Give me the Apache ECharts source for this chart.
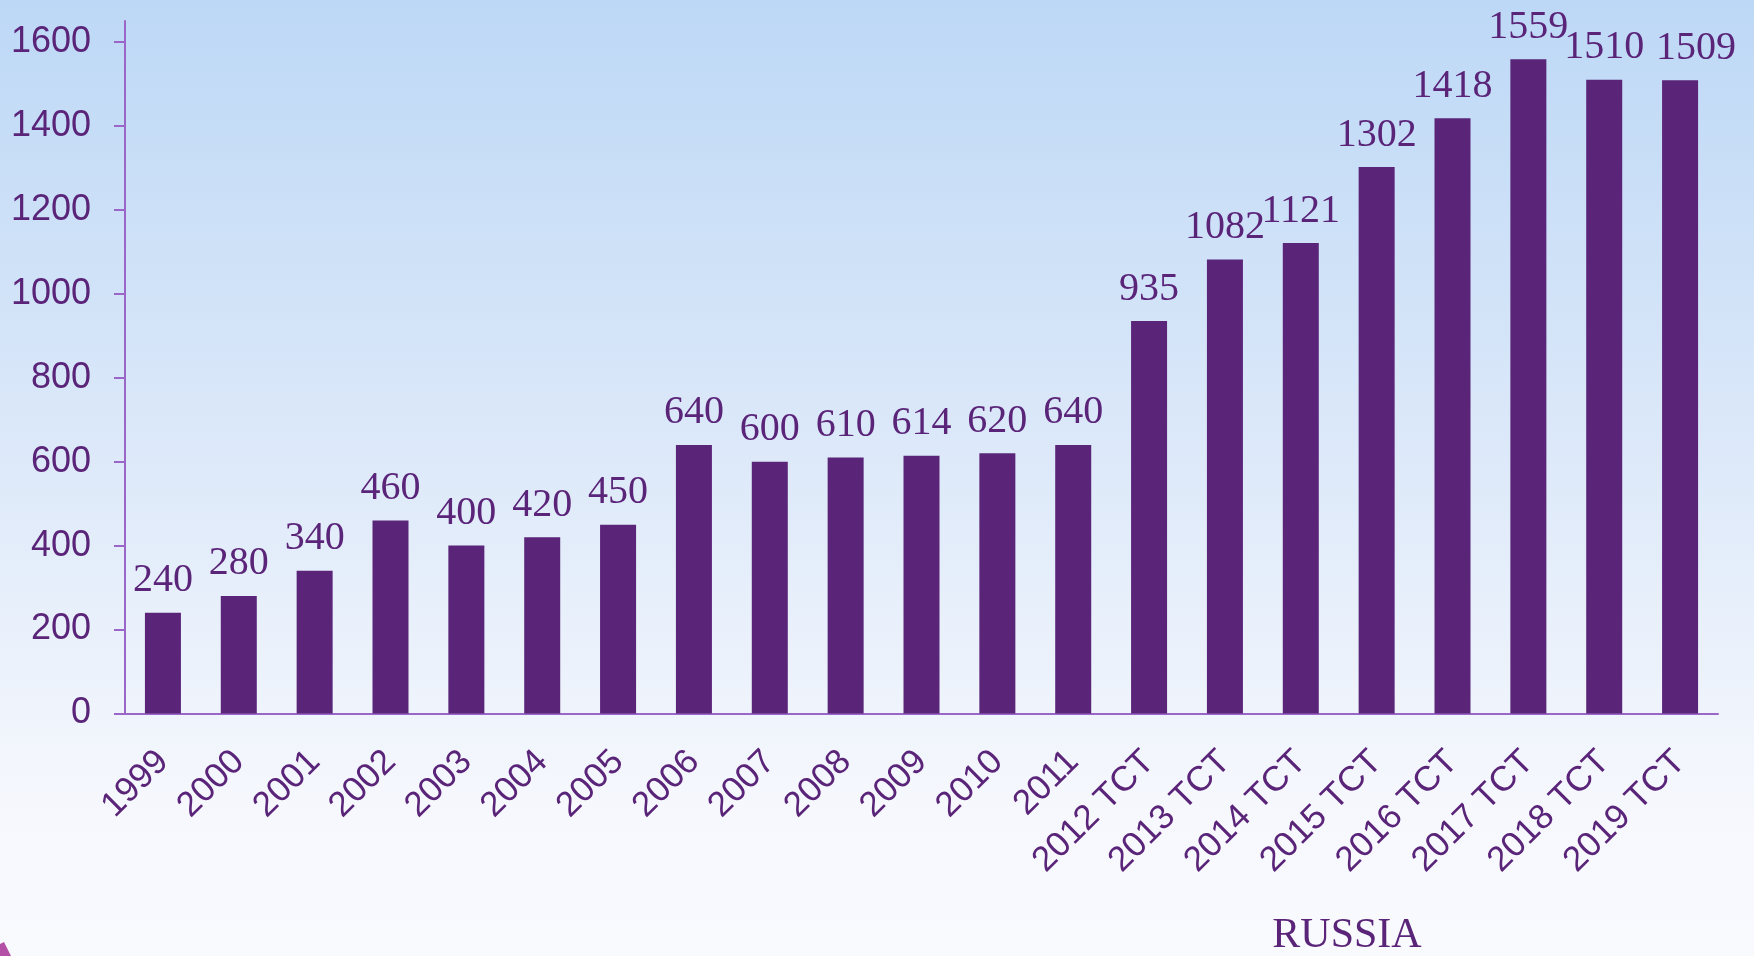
<!DOCTYPE html>
<html>
<head>
<meta charset="utf-8">
<script src="https://cdn.jsdelivr.net/npm/echarts@6/dist/echarts.min.js"></script>
<style>
  html, body { margin: 0; padding: 0; }
  #chart { width: 1754px; height: 956px; }
</style>
</head>
<body>
<div id="chart"></div>
<script>
const years = ['1999', '2000', '2001', '2002', '2003', '2004', '2005', '2006', '2007', '2008', '2009',
  '2010', '2011', '2012 TCT', '2013 TCT', '2014 TCT', '2015 TCT', '2016 TCT', '2017 TCT', '2018 TCT', '2019 TCT']
const values = [240, 280, 340, 460, 400, 420, 450, 640, 600, 610, 614,
  620, 640, 935, 1082, 1121, 1302, 1418, 1559, 1510, 1509]
const yTicks = [0, 200, 400, 600, 800, 1000, 1200, 1400, 1600]
const countryName = 'RUSSIA'

const purple = '#5a2479'
const axisPurple = '#9a66c8'

const myChart = echarts.init(document.getElementById('chart'))
myChart.setOption({
  animation: false,
  backgroundColor: new echarts.graphic.LinearGradient(0, 0, 0, 1, [
    { offset: 0, color: '#bdd8f6' },
    { offset: 0.45, color: '#dbe8f9' },
    { offset: 0.85, color: '#f6f8fd' },
    { offset: 1, color: '#f9fafe' }
  ]),
  grid: {
    left: 125,
    right: 36,
    top: 21,
    bottom: 242.5
  },
  xAxis: {
    type: 'category',
    data: years,
    axisLine: { lineStyle: { color: axisPurple, width: 2 } },
    axisTick: { length: 11, lineStyle: { color: axisPurple, width: 2 } },
    axisLabel: {
      interval: 0,
      rotate: 45,
      margin: 43,
      color: purple,
      fontFamily: 'Liberation Sans',
      fontSize: 35
    }
  },
  yAxis: {
    type: 'value',
    min: 0,
    max: 1650,
    interval: 200,
    axisLine: { show: true, lineStyle: { color: axisPurple, width: 2 } },
    axisTick: { show: true, length: 11, customValues: yTicks, lineStyle: { color: axisPurple, width: 2 } },
    splitLine: { show: false },
    axisLabel: {
      customValues: yTicks,
      formatter: v => String(v),
      margin: 34,
      color: purple,
      fontFamily: 'Liberation Sans',
      fontSize: 36
    }
  },
  series: [{
    type: 'bar',
    // last label sits a little to the right in the original
    data: values.map((v, i) => i === values.length - 1 ? { value: v, label: { offset: [16, 0] } } : v),
    barWidth: 36,
    itemStyle: { color: purple },
    label: {
      show: true,
      position: 'top',
      distance: 12,
      color: purple,
      fontFamily: 'Liberation Serif',
      fontSize: 40
    }
  }],
  graphic: [{
    type: 'text',
    x: 1347,
    y: 936,
    style: {
      text: countryName,
      fill: purple,
      font: '42px "Liberation Serif"',
      textAlign: 'center',
      textVerticalAlign: 'middle'
    }
  }, {
    // small corner decoration bottom-left
    type: 'polygon',
    shape: { points: [[0, 944], [4, 942], [11, 956], [0, 956]] },
    style: { fill: '#b451a6' }
  }]
})
window.addEventListener('resize', () => { myChart.resize() })
</script>
</body>
</html>
